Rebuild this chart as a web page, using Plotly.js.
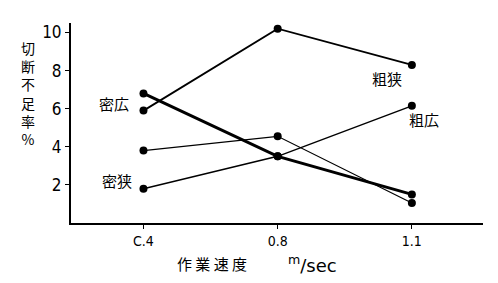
<!DOCTYPE html>
<html><head><meta charset="utf-8">
<script src="https://cdn.plot.ly/plotly-3.0.1.min.js"></script>
<style>html,body{margin:0;padding:0;background:#fff;}#chart{width:498px;height:283px;}</style>
</head><body><div id="chart"></div>
<script>
const speeds = ["0.4", "0.8", "1.1"];
const tickLabels = ["C.4", "0.8", "1.1"];
const seriesNames = ["粗狭", "密広", "密狭", "粗広"];
const coarseNarrow = [5.9, 10.2, 8.3];
const denseWide = [6.8, 3.5, 1.5];
const denseNarrow = [3.8, 4.55, 1.05];
const coarseWide = [1.8, 3.5, 6.15];
const lineWidths = [1.8, 3, 1.2, 1.5];
const allSeries = [coarseNarrow, denseWide, denseNarrow, coarseWide];

const traces = allSeries.map((vals, i) => ({
  x: speeds, y: vals, type: "scatter", mode: "lines+markers", name: seriesNames[i],
  line: {color: "#000", width: lineWidths[i]},
  marker: {color: "#000", size: 8},
  showlegend: false, cliponaxis: false
}));

const jp = "Noto Sans CJK JP";
const labelFont = {family: jp, size: 15, color: "#000"};
const L = 71, R = 15, T = 23, B = 60, W = 498, H = 283;
const pw = W - L - R, ph = H - T - B;
const px = v => (v - L) / pw, py = v => (H - B - v) / ph;
const numFont = "DejaVu Sans Condensed, Liberation Sans Narrow, sans-serif";
const ann = (x, y, text, font) => ({x: px(x), y: py(y), xref: "paper", yref: "paper", text, showarrow: false,
  xanchor: "center", yanchor: "middle", align: "center", font});

const layout = {
  width: W, height: H,
  margin: {l: L, r: R, t: T, b: B},
  paper_bgcolor: "#fff", plot_bgcolor: "#fff",
  font: {color: "#000"},
  xaxis: {
    type: "category", range: [-0.54, 2.53],
    tickvals: speeds, ticktext: tickLabels,
    showgrid: false, zeroline: false,
    showline: true, linecolor: "#000", linewidth: 2,
    ticks: "outside", ticklen: 4, tickcolor: "#000", tickwidth: 1,
    tickfont: {family: numFont, size: 14, color: "#000"}
  },
  yaxis: {
    range: [0, 10.5], tickvals: [2, 4, 6, 8, 10],
    showgrid: false, zeroline: false,
    showline: true, linecolor: "#000", linewidth: 2,
    ticks: "outside", ticklen: 4, tickcolor: "#000", tickwidth: 1,
    tickfont: {family: numFont, size: 17, color: "#000"}
  },
  annotations: [
    ann(114, 103, "密広", labelFont),
    ann(117, 180, "密狭", labelFont),
    ann(387, 78, "粗狭", labelFont),
    ann(424, 119, "粗広", labelFont),
    ann(28, 93, "切<br>断<br>不<br>足<br>率<br>%", {family: jp, size: 14, color: "#000"}),
    ann(212, 263, "作 業 速 度", {family: jp, size: 15, color: "#000"}),
    ann(312, 264, "<sup>m</sup>/sec", {family: "DejaVu Sans", size: 18, color: "#000"})
  ]
};
Plotly.newPlot("chart", traces, layout, {displayModeBar: false, staticPlot: true});
</script></body></html>
